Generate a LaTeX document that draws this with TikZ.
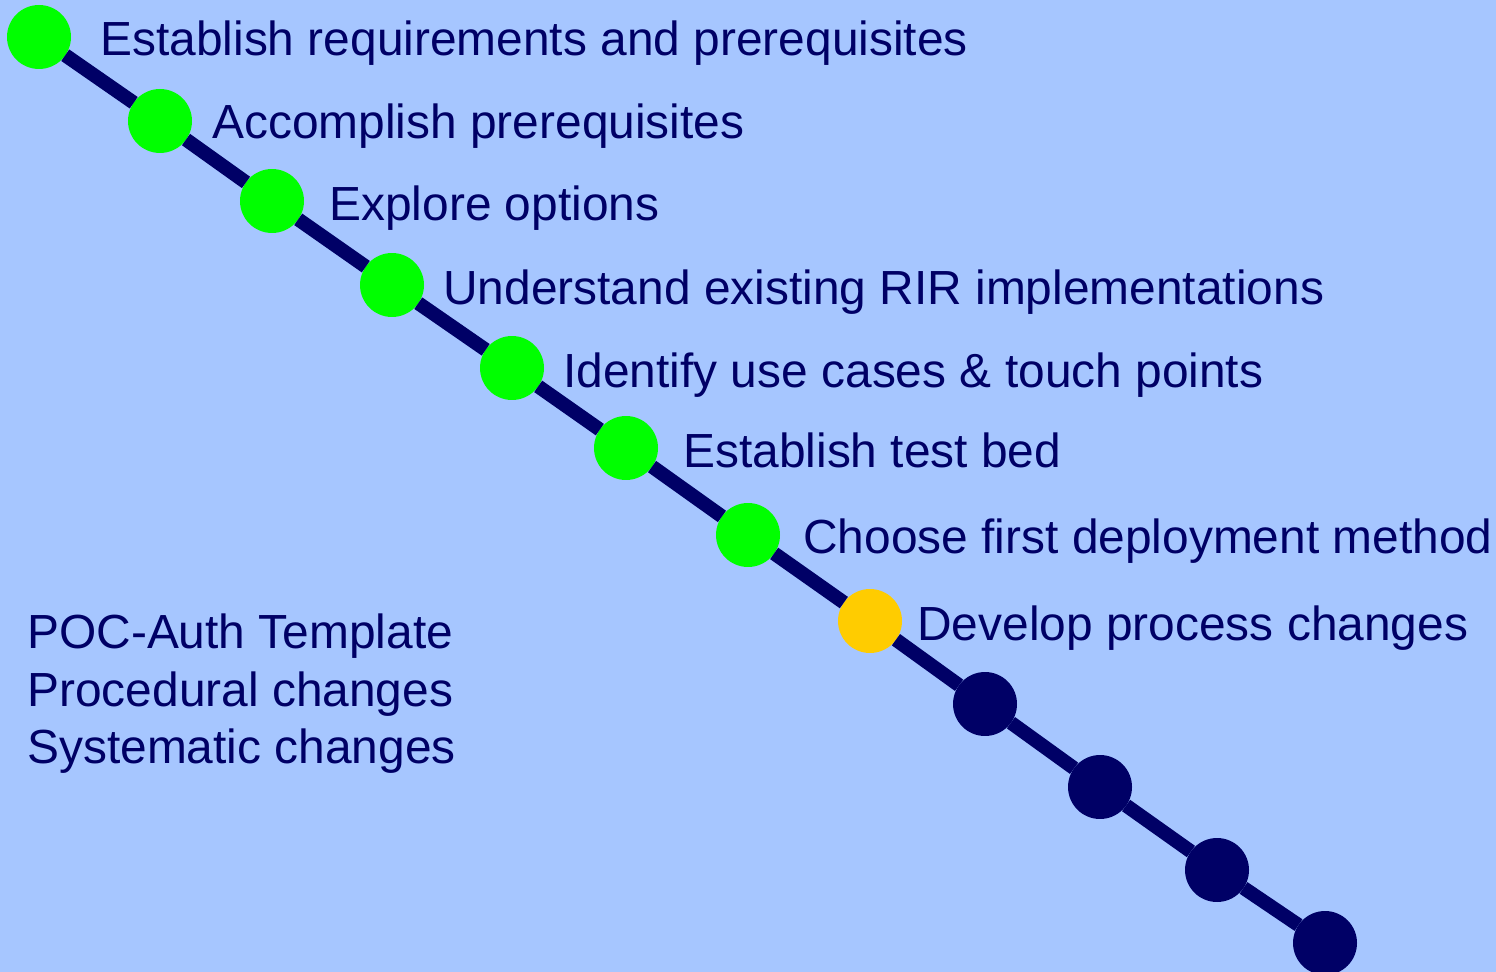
\documentclass[tikz,border=0pt]{standalone}
\usepackage{fontspec}
\setmainfont{Liberation Sans}
\usepackage{xcolor}
\usepackage{tikz}

\definecolor{skyback}{HTML}{A6C6FF}
\definecolor{navy}{HTML}{000066}
\definecolor{donegreen}{HTML}{00FF00}
\definecolor{nowyellow}{HTML}{FFCC00}

\tikzset{
	stone/.style={circle, minimum size=1.28cm, inner sep=0pt, outer sep=0pt},
	done/.style={stone, fill=donegreen},
	busy/.style={stone, fill=nowyellow},
	todo/.style={stone, fill=navy},
	track/.style={color=navy, line width=0.28cm},
	caption/.style={anchor=west, inner sep=0pt, text=navy, text height=19.5pt, text depth=0pt,
		font=\fontsize{27.25pt}{32.7pt}\selectfont}
}

\begin{document}
\begin{tikzpicture}[x=0.02cm, y=-0.02cm]
		\useasboundingbox (0,0) rectangle (1496,972);
		\fill[skyback] (0,0) rectangle (1496,972);
		% milestones along the road
		\node[done] (c1) at (39,37) {};
		\node[done] (c2) at (160,121) {};
		\node[done] (c3) at (272,201) {};
		\node[done] (c4) at (392,285) {};
		\node[done] (c5) at (512,368) {};
		\node[done] (c6) at (626,448) {};
		\node[done] (c7) at (748,535) {};
		\node[busy] (c8) at (870,621) {};
		\node[todo] (c9) at (985,704) {};
		\node[todo] (c10) at (1100,787) {};
		\node[todo] (c11) at (1217,870) {};
		\node[todo] (c12) at (1325,943) {};
		\draw[track] (c1) -- (c2) -- (c3) -- (c4) -- (c5) -- (c6) -- (c7) -- (c8) -- (c9) -- (c10) -- (c11) -- (c12);
		% step names
		\node[caption] (t1) at (100,38) {Establish requirements and prerequisites};
		\node[caption] (t2) at (212,121) {Accomplish prerequisites};
		\node[caption] (t3) at (329,203) {Explore options};
		\node[caption] (t4) at (443,287) {Understand existing RIR implementations};
		\node[caption] (t5) at (563,370) {Identify use cases \& touch points};
		\node[caption] (t6) at (683,450) {Establish test bed};
		\node[caption] (t7) at (803,536) {Choose first deployment method};
		\node[caption] (t8) at (917,623) {Develop process changes};
		% outcomes
		\node[caption] (o1) at (27,631) {POC-Auth Template};
		\node[caption] (o2) at (27,689) {Procedural changes};
		\node[caption] (o3) at (27,746) {Systematic changes};
\end{tikzpicture}
\end{document}
